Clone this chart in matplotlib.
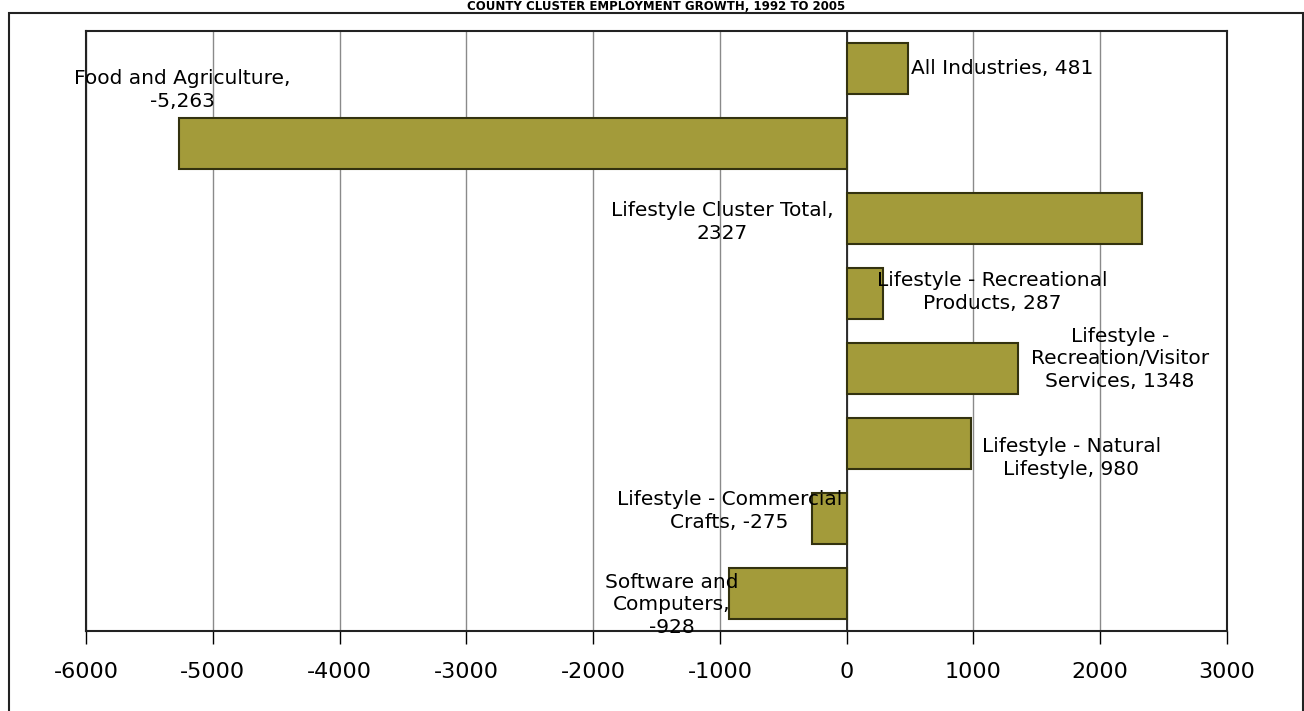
import matplotlib.pyplot as plt
from matplotlib.patches import Rectangle

# datos
categories = [
    "All Industries",
    "Food and Agriculture",
    "Lifestyle Cluster Total",
    "Lifestyle - Recreational Products",
    "Lifestyle - Recreation/Visitor Services",
    "Lifestyle - Natural Lifestyle",
    "Lifestyle - Commercial Crafts",
    "Software and Computers",
]
growth = [481, -5263, 2327, 287, 1348, 980, -275, -928]
bar_labels = [
    "All Industries, 481",
    "Food and Agriculture,\n-5,263",
    "Lifestyle Cluster Total,\n2327",
    "Lifestyle - Recreational\nProducts, 287",
    "Lifestyle -\nRecreation/Visitor\nServices, 1348",
    "Lifestyle - Natural\nLifestyle, 980",
    "Lifestyle - Commercial\nCrafts, -275",
    "Software and\nComputers,\n-928",
]
xticks = [-6000, -5000, -4000, -3000, -2000, -1000, 0, 1000, 2000, 3000]

# posicion de las etiquetas (x en datos, desplazamiento vertical, alineacion)
label_pos = [
    (510, 0.0, "left"),
    (-5240, -0.71, "center"),
    (-980, 0.05, "center"),
    (1145, -0.02, "center"),
    (2155, -0.13, "center"),
    (1770, 0.19, "center"),
    (-925, -0.1, "center"),
    (-1380, 0.15, "center"),
]

bar_color = "#a39b3a"
edge_color = "#33320f"

plt.rcParams["font.family"] = ["DejaVu Sans"]

fig = plt.figure(figsize=(13.04, 7.11), dpi=100)
ax = fig.add_axes([86 / 1304, 80 / 711, (1227 - 86) / 1304, (631 - 31) / 711])

ypos = list(range(len(categories)))
ax.barh(ypos, growth, height=0.67, color=bar_color, edgecolor=edge_color,
        linewidth=1.5, zorder=3)

for i, (txt, (lx, dy, ha)) in enumerate(zip(bar_labels, label_pos)):
    ax.text(lx, i + dy, txt, ha=ha, va="center", fontsize=14.5,
            linespacing=1.25, zorder=4)

ax.set_xlim(-6000, 3000)
ax.set_ylim(len(categories) - 0.5, -0.5)
ax.set_xticks(xticks)
ax.set_xticklabels([str(t) for t in xticks], fontsize=16)
ax.set_yticks([])
ax.tick_params(axis="x", direction="out", length=9, width=1, pad=13)
ax.grid(axis="x", color="#8a8a8a", linewidth=1, zorder=0)
ax.axvline(0, color="#222222", linewidth=1.3, zorder=2)
for s in ax.spines.values():
    s.set_color("#222222")
    s.set_linewidth(1.5)

# marco exterior y titulo
fig.patches.append(Rectangle((9 / 1304, -0.02), (1303 - 9) / 1304, 1.02 - 13 / 711,
                             transform=fig.transFigure, fill=False,
                             edgecolor="#222222", linewidth=1.5))
fig.text(0.503, 1.0 - 6 / 711, "COUNTY CLUSTER EMPLOYMENT GROWTH, 1992 TO 2005",
         ha="center", va="center", fontsize=8.5, fontweight="bold")

plt.savefig("out.png", dpi=100, facecolor="white")
